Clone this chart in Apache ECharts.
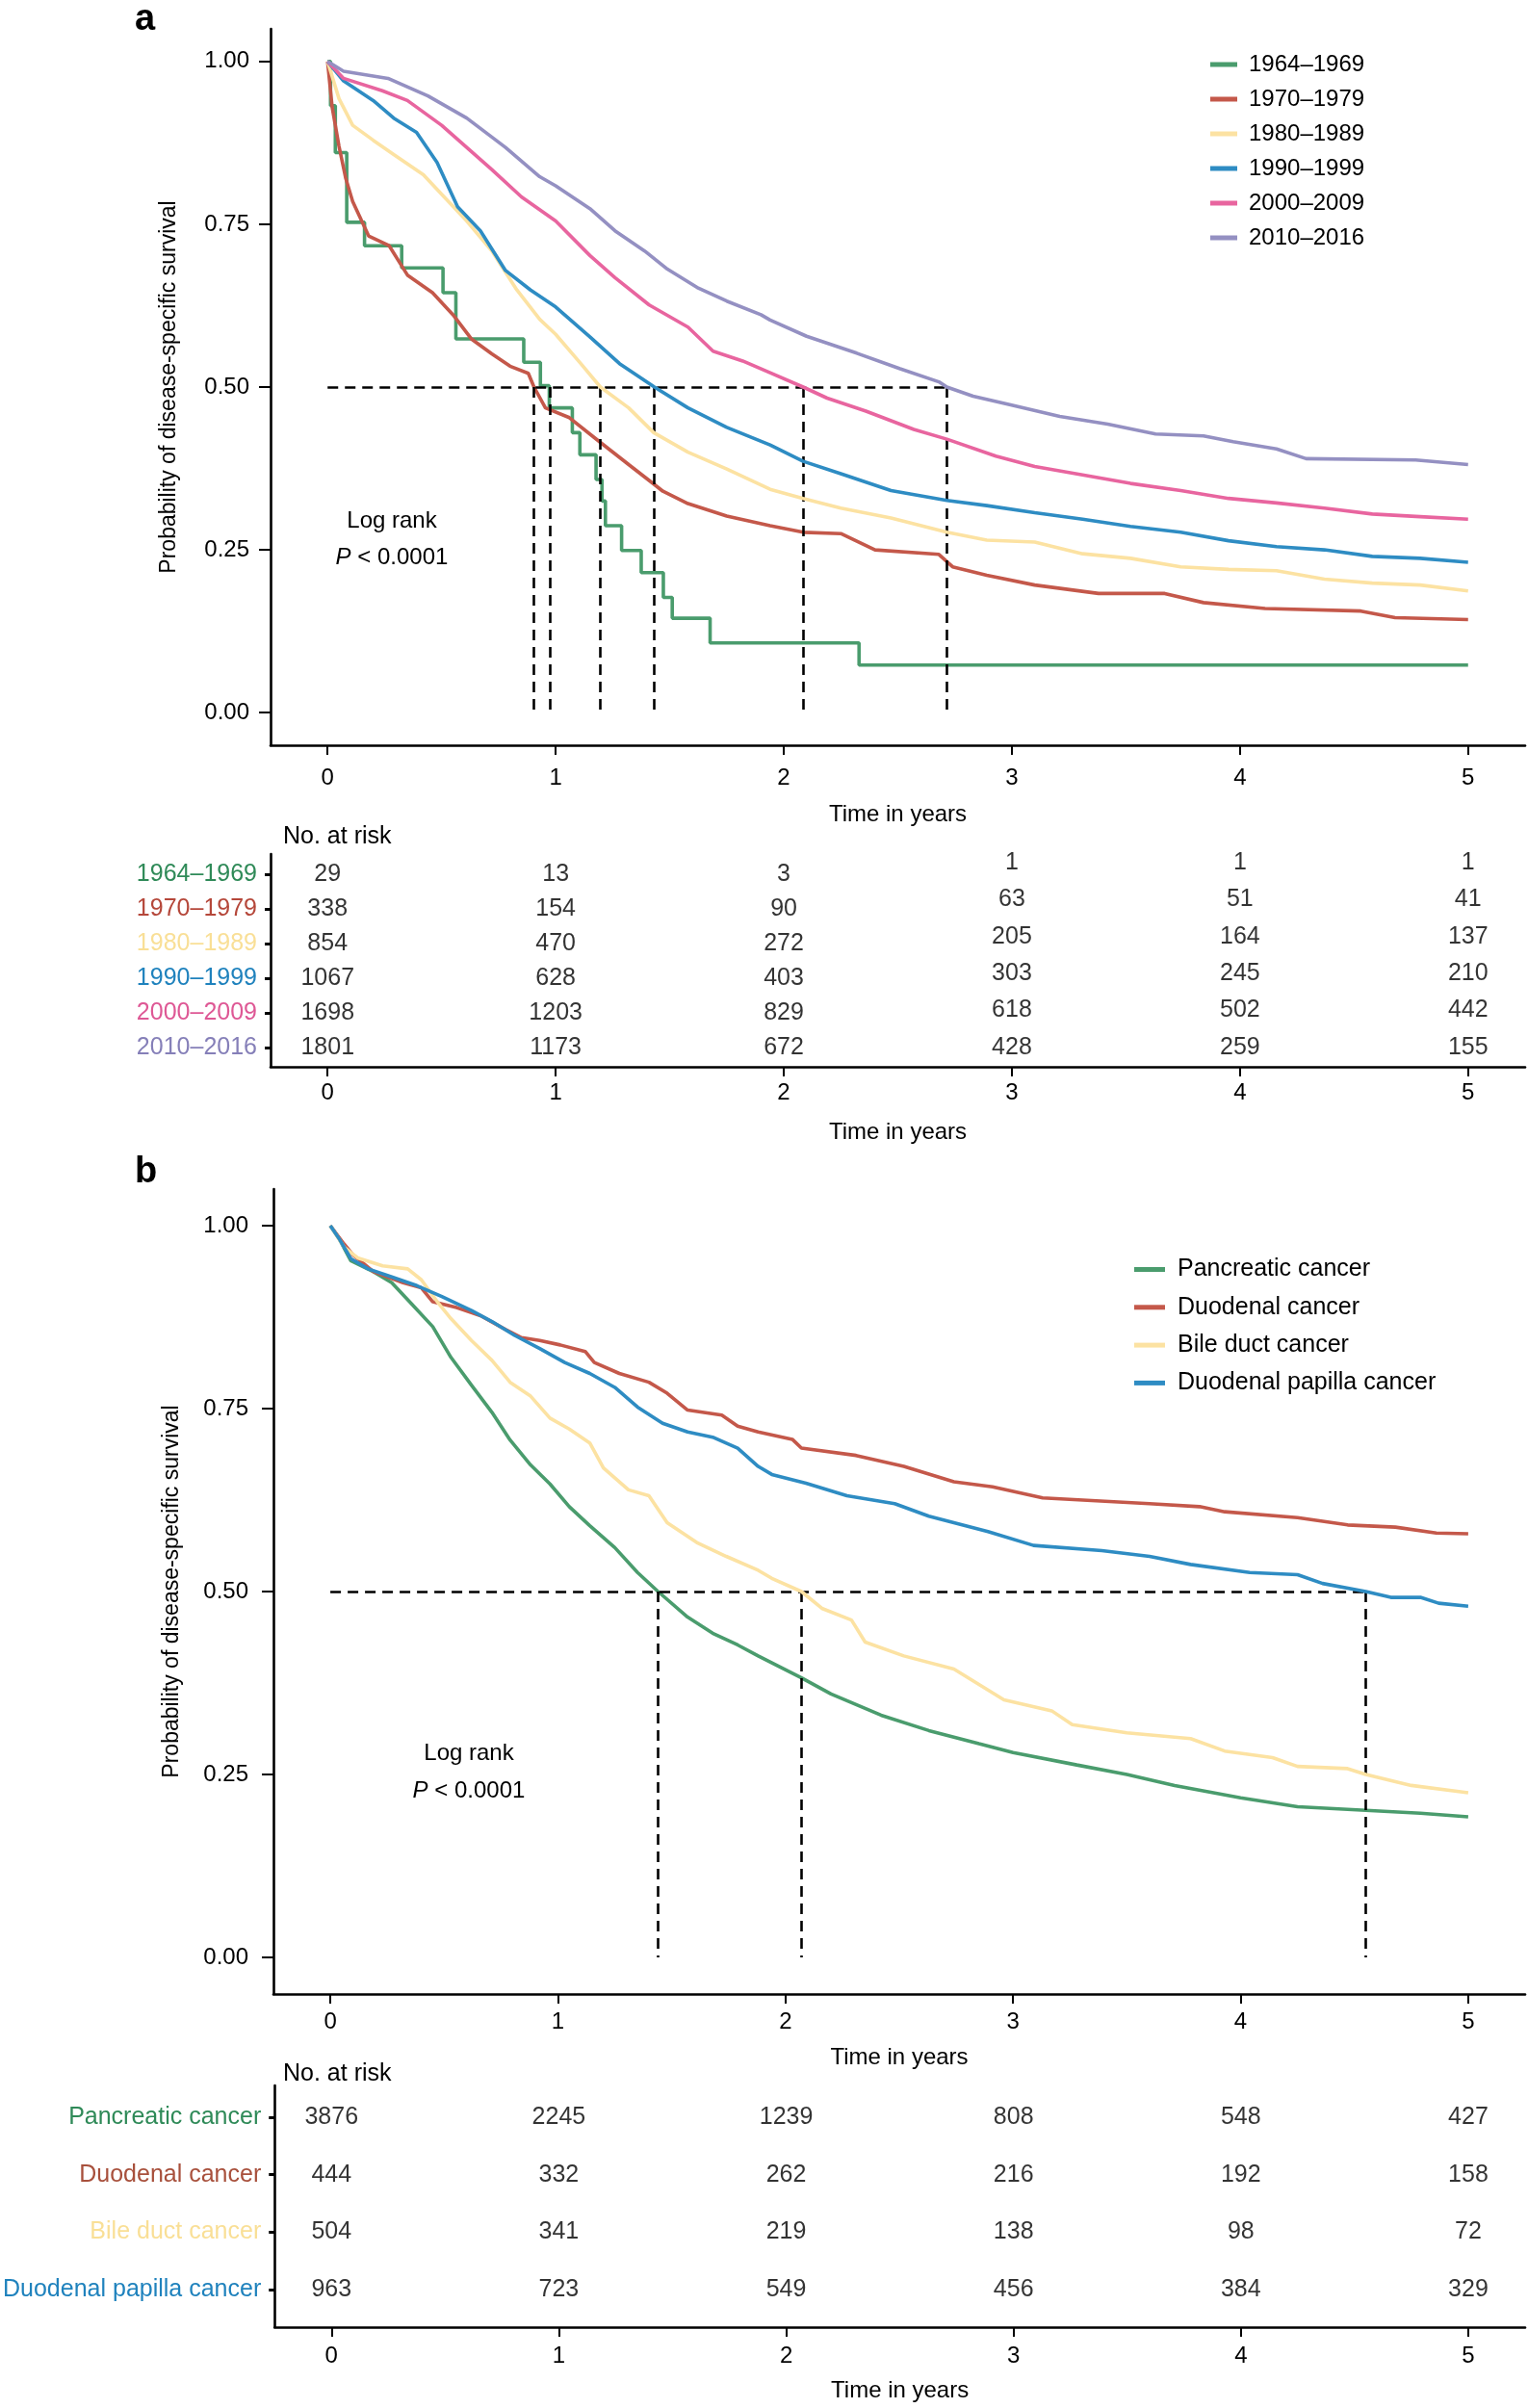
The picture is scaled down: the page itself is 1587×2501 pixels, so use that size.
<!DOCTYPE html>
<html>
<head>
<meta charset="utf-8">
<script src="https://cdn.jsdelivr.net/npm/echarts@6/dist/echarts.min.js"></script>
<style>
html,body{margin:0;padding:0;background:#fff;}
#chart{width:1587px;height:2501px;}
</style>
</head>
<body>
<div id="chart"></div>
<script>
// ---------- DATA ----------
const timeTicks = [0, 1, 2, 3, 4, 5];
const survTicks = [0, 0.25, 0.5, 0.75, 1];

// Panel a: diagnosis period
const periodNames = ['1964–1969', '1970–1979', '1980–1989', '1990–1999', '2000–2009', '2010–2016'];
const s1964 = [[0,1],[0.013,0.932],[0.034,0.860],[0.084,0.753],[0.162,0.717],[0.325,0.683],[0.506,0.645],[0.5625,0.574],[0.86,0.538],[0.933,0.502],[0.972,0.468],[1.073,0.430],[1.106,0.396],[1.177,0.358],[1.203,0.325],[1.218,0.287],[1.289,0.249],[1.375,0.215],[1.472,0.177],[1.511,0.145],[1.677,0.107],[2.33,0.073],[5,0.073]];
const s1970 = [[0,1],[0.02,0.93],[0.05,0.87],[0.08,0.82],[0.11,0.785],[0.18,0.732],[0.27,0.717],[0.35,0.672],[0.46,0.645],[0.55,0.611],[0.63,0.574],[0.72,0.551],[0.80,0.532],[0.88,0.521],[0.905,0.5],[0.955,0.468],[1.06,0.453],[1.196,0.415],[1.32,0.381],[1.43,0.351],[1.47,0.340],[1.58,0.321],[1.75,0.302],[1.94,0.287],[2.085,0.277],[2.25,0.275],[2.40,0.250],[2.68,0.243],[2.74,0.224],[2.89,0.211],[3.10,0.196],[3.38,0.183],[3.67,0.183],[3.84,0.169],[4.11,0.160],[4.53,0.156],[4.68,0.146],[5,0.143]];
const s1980 = [[0,1],[0.05,0.943],[0.11,0.902],[0.20,0.879],[0.29,0.857],[0.42,0.826],[0.50,0.796],[0.61,0.755],[0.72,0.709],[0.83,0.649],[0.93,0.604],[1.0,0.581],[1.11,0.536],[1.196,0.5],[1.32,0.468],[1.43,0.430],[1.58,0.40],[1.75,0.374],[1.94,0.343],[2.085,0.329],[2.25,0.314],[2.47,0.299],[2.715,0.277],[2.89,0.265],[3.10,0.262],[3.31,0.244],[3.52,0.237],[3.74,0.224],[3.95,0.220],[4.16,0.218],[4.37,0.205],[4.58,0.199],[4.79,0.196],[5,0.187]];
const s1990 = [[0,1],[0.07,0.970],[0.20,0.94],[0.29,0.913],[0.39,0.891],[0.48,0.845],[0.57,0.777],[0.67,0.740],[0.78,0.679],[0.89,0.649],[1.0,0.623],[1.15,0.577],[1.28,0.536],[1.433,0.5],[1.58,0.468],[1.75,0.438],[1.94,0.411],[2.085,0.386],[2.25,0.367],[2.47,0.341],[2.715,0.326],[2.89,0.318],[3.10,0.307],[3.31,0.297],[3.52,0.286],[3.74,0.277],[3.95,0.264],[4.16,0.255],[4.37,0.250],[4.58,0.240],[4.79,0.237],[5,0.231]];
const s2000 = [[0,1],[0.07,0.974],[0.24,0.955],[0.35,0.94],[0.50,0.902],[0.61,0.868],[0.72,0.834],[0.85,0.792],[1.0,0.755],[1.15,0.702],[1.26,0.668],[1.41,0.626],[1.58,0.592],[1.69,0.555],[1.82,0.540],[1.94,0.522],[2.085,0.5],[2.19,0.483],[2.36,0.463],[2.57,0.435],[2.715,0.42],[2.93,0.394],[3.10,0.378],[3.31,0.365],[3.52,0.352],[3.74,0.341],[3.95,0.329],[4.16,0.322],[4.37,0.314],[4.58,0.305],[4.79,0.301],[5,0.297]];
const s2010 = [[0,1],[0.07,0.985],[0.265,0.974],[0.44,0.947],[0.61,0.913],[0.78,0.868],[0.93,0.823],[1.0,0.809],[1.15,0.774],[1.26,0.740],[1.39,0.709],[1.49,0.681],[1.62,0.653],[1.75,0.632],[1.90,0.611],[1.94,0.603],[2.1,0.578],[2.32,0.552],[2.51,0.528],[2.68,0.508],[2.715,0.5],[2.83,0.486],[2.99,0.473],[3.21,0.455],[3.42,0.443],[3.63,0.428],[3.84,0.425],[3.97,0.416],[4.16,0.405],[4.29,0.390],[4.77,0.388],[5,0.381]];
const periodMedians = [0.905, 0.975, 1.196, 1.433, 2.085, 2.715];
const risk1964 = [29, 13, 3, 1, 1, 1];
const risk1970 = [338, 154, 90, 63, 51, 41];
const risk1980 = [854, 470, 272, 205, 164, 137];
const risk1990 = [1067, 628, 403, 303, 245, 210];
const risk2000 = [1698, 1203, 829, 618, 502, 442];
const risk2010 = [1801, 1173, 672, 428, 259, 155];

// Panel b: tumour site
const siteNames = ['Pancreatic cancer', 'Duodenal cancer', 'Bile duct cancer', 'Duodenal papilla cancer'];
const sPancreatic = [[0,1],[0.037,0.983],[0.09,0.952],[0.19,0.937],[0.27,0.922],[0.36,0.892],[0.45,0.862],[0.53,0.820],[0.62,0.782],[0.71,0.745],[0.79,0.707],[0.88,0.673],[0.965,0.647],[1.05,0.616],[1.14,0.590],[1.25,0.560],[1.35,0.526],[1.44,0.5],[1.57,0.465],[1.68,0.443],[1.79,0.427],[1.88,0.412],[2.07,0.382],[2.20,0.360],[2.42,0.331],[2.63,0.310],[2.85,0.292],[3.0,0.280],[3.28,0.263],[3.50,0.250],[3.71,0.235],[4.0,0.218],[4.25,0.206],[4.55,0.201],[4.79,0.197],[5,0.192]];
const sDuodenal = [[0,1],[0.06,0.975],[0.10,0.960],[0.19,0.937],[0.32,0.922],[0.40,0.915],[0.45,0.896],[0.555,0.888],[0.66,0.877],[0.77,0.858],[0.84,0.847],[0.92,0.843],[1.01,0.837],[1.12,0.828],[1.16,0.813],[1.27,0.798],[1.40,0.786],[1.48,0.771],[1.57,0.748],[1.72,0.741],[1.79,0.726],[1.88,0.718],[2.03,0.708],[2.07,0.696],[2.31,0.686],[2.52,0.671],[2.74,0.650],[2.91,0.643],[3.13,0.628],[3.60,0.620],[3.82,0.616],[3.93,0.609],[4.25,0.601],[4.47,0.591],[4.68,0.588],[4.86,0.580],[5,0.579]];
const sBile = [[0,1],[0.06,0.971],[0.12,0.956],[0.23,0.945],[0.34,0.941],[0.40,0.926],[0.47,0.896],[0.53,0.873],[0.62,0.843],[0.71,0.816],[0.79,0.786],[0.88,0.767],[0.965,0.737],[1.05,0.722],[1.14,0.703],[1.20,0.669],[1.31,0.639],[1.40,0.631],[1.48,0.594],[1.61,0.567],[1.74,0.548],[1.88,0.529],[1.94,0.518],[2.07,0.5],[2.16,0.477],[2.29,0.461],[2.35,0.431],[2.52,0.412],[2.74,0.394],[2.96,0.352],[3.17,0.337],[3.26,0.318],[3.50,0.307],[3.78,0.299],[3.93,0.282],[4.14,0.273],[4.25,0.261],[4.47,0.258],[4.55,0.250],[4.75,0.235],[5,0.225]];
const sPapilla = [[0,1],[0.037,0.983],[0.09,0.955],[0.166,0.941],[0.27,0.930],[0.38,0.918],[0.49,0.903],[0.62,0.884],[0.71,0.869],[0.81,0.850],[0.92,0.832],[1.03,0.813],[1.14,0.798],[1.25,0.779],[1.35,0.752],[1.46,0.730],[1.57,0.718],[1.68,0.711],[1.79,0.696],[1.88,0.671],[1.94,0.660],[2.09,0.648],[2.27,0.631],[2.48,0.620],[2.63,0.603],[2.89,0.582],[3.09,0.563],[3.39,0.556],[3.60,0.548],[3.78,0.537],[4.04,0.526],[4.25,0.523],[4.36,0.511],[4.55,0.5],[4.66,0.492],[4.79,0.492],[4.87,0.484],[5,0.480]];
const siteMedians = [1.44, 2.07, 4.55];
const riskPancreatic = [3876, 2245, 1239, 808, 548, 427];
const riskDuodenal = [444, 332, 262, 216, 192, 158];
const riskBile = [504, 341, 219, 138, 98, 72];
const riskPapilla = [963, 723, 549, 456, 384, 329];

// ---------- STYLE ----------
const FONT = "'Liberation Sans', Arial, Helvetica, sans-serif";
const periodColors = ['#4A9C6D', '#C4584A', '#FCE2A2', '#2E8CC3', '#E8659F', '#9490C2'];
const periodTextColors = ['#2F8A58', '#B5473A', '#F9DF96', '#1F82BD', '#DE5895', '#857FB8'];
const siteColors = ['#4A9C6D', '#C4584A', '#FCE2A2', '#2E8CC3'];
const siteTextColors = ['#2F8A58', '#A8503C', '#F9DF96', '#1F82BD'];

const periodCurves = [s1964, s1970, s1980, s1990, s2000, s2010];
const periodRisk = [risk1964, risk1970, risk1980, risk1990, risk2000, risk2010];
const siteCurves = [sPancreatic, sDuodenal, sBile, sPapilla];
const siteRisk = [riskPancreatic, riskDuodenal, riskBile, riskPapilla];

const AX = '#000';
function xAxisDef(gridIndex, labelMargin, nameGap, fs) {
  return {
    type: 'value', gridIndex, min: -0.25, max: 5.25,
    axisLine: { show: true, onZero: false, lineStyle: { color: AX, width: 2.6 } },
    axisTick: { show: true, customValues: timeTicks, length: 10, lineStyle: { color: AX, width: 2 } },
    axisLabel: { show: true, customValues: timeTicks, margin: labelMargin, fontSize: fs, color: '#000', fontFamily: FONT, formatter: v => String(v) },
    splitLine: { show: false },
    name: 'Time in years', nameLocation: 'middle', nameGap,
    nameTextStyle: { fontSize: fs, color: '#000', fontFamily: FONT }
  };
}
function survAxisDef(gridIndex, labelMargin, fs) {
  return {
    type: 'value', gridIndex, min: -0.05, max: 1.05,
    axisLine: { show: true, onZero: false, lineStyle: { color: AX, width: 2.6 } },
    axisTick: { show: true, customValues: survTicks, length: 12, lineStyle: { color: AX, width: 2 } },
    axisLabel: { show: true, customValues: survTicks, margin: labelMargin, fontSize: fs, color: '#000', fontFamily: FONT, formatter: v => v.toFixed(2) },
    splitLine: { show: false },
    name: 'Probability of disease-specific survival', nameLocation: 'middle', nameGap: 94, nameRotate: 90,
    nameTextStyle: { fontSize: 23, color: '#000', fontFamily: FONT }
  };
}
function tableAxisDef(gridIndex, names, colors, minV, maxV, fs) {
  const n = names.length;
  const vals = names.map((_, i) => i);
  return {
    type: 'value', gridIndex, min: minV, max: maxV,
    axisLine: { show: true, onZero: false, lineStyle: { color: AX, width: 2.6 } },
    axisTick: { show: true, customValues: vals, length: 6, lineStyle: { color: AX, width: 3 } },
    axisLabel: {
      show: true, customValues: vals, margin: 14, fontSize: fs, fontFamily: FONT,
      formatter: v => names[n - 1 - Math.round(v)],
      color: v => colors[n - 1 - Math.round(v)]
    },
    splitLine: { show: false }
  };
}

const series = [];
periodNames.forEach((nm, i) => {
  series.push({
    name: nm, type: 'line', xAxisIndex: 0, yAxisIndex: 0,
    data: periodCurves[i], showSymbol: false, symbol: 'none',
    step: i === 0 ? 'end' : false,
    color: periodColors[i],
    lineStyle: { width: 3.6, color: periodColors[i] },
    z: 3 + i, animation: false
  });
});
siteNames.forEach((nm, i) => {
  series.push({
    name: nm, type: 'line', xAxisIndex: 2, yAxisIndex: 2,
    data: siteCurves[i], showSymbol: false, symbol: 'none',
    color: siteColors[i],
    lineStyle: { width: 3.6, color: siteColors[i] },
    z: 3 + i, animation: false
  });
});

function medianLines(medians, xi, yi) {
  const maxM = Math.max(...medians);
  const data = [[{ coord: [0, 0.5] }, { coord: [maxM, 0.5] }]];
  medians.forEach(m => data.push([{ coord: [m, 0.5] }, { coord: [m, 0] }]));
  return {
    type: 'line', xAxisIndex: xi, yAxisIndex: yi, data: [], silent: true,
    markLine: {
      symbol: ['none', 'none'], silent: true, animation: false,
      label: { show: false },
      lineStyle: { type: [11, 7], color: '#000', width: 2.6 },
      data
    },
    z: 10
  };
}
series.push(medianLines(periodMedians, 0, 0));
series.push(medianLines(siteMedians, 2, 2));

function riskSeries(risks, xi, yi, fs, shiftLater) {
  const n = risks.length;
  const data = [];
  risks.forEach((row, i) => {
    const rv = n - 1 - i;
    row.forEach((count, j) => {
      const item = { value: [timeTicks[j], rv, count] };
      if (shiftLater && j >= 3) item.label = { offset: [0, -rv * 2.4] };
      data.push(item);
    });
  });
  return {
    type: 'scatter', xAxisIndex: xi, yAxisIndex: yi, data,
    symbolSize: 1, itemStyle: { color: 'rgba(0,0,0,0)' }, silent: true, animation: false,
    label: { show: true, position: 'inside', formatter: p => String(p.value[2]), fontSize: fs, color: '#000', fontFamily: FONT }
  };
}
series.push(riskSeries(periodRisk, 1, 1, 25, true));
series.push(riskSeries(siteRisk, 3, 3, 25, false));

const option = {
  animation: false,
  backgroundColor: '#fff',
  textStyle: { fontFamily: FONT },
  grid: [
    { left: 281, top: 30, width: 1303, height: 744 },
    { left: 281, top: 887, width: 1303, height: 221 },
    { left: 284, top: 1235, width: 1300, height: 836 },
    { left: 284, top: 2166, width: 1300, height: 251 }
  ],
  xAxis: [
    xAxisDef(0, 22, 60, 24),
    xAxisDef(1, 15, 56, 24),
    xAxisDef(2, 17, 54, 24),
    xAxisDef(3, 18, 54, 24)
  ],
  yAxis: [
    survAxisDef(0, 22, 24),
    tableAxisDef(1, periodNames, periodTextColors, -0.556, 5.583, 25),
    survAxisDef(2, 26, 24),
    tableAxisDef(3, siteNames, siteTextColors, -0.65, 3.55, 25)
  ],
  legend: [
    {
      data: periodNames, orient: 'vertical', left: 1257, top: 55, padding: 0,
      icon: 'rect', itemWidth: 28, itemHeight: 5, itemGap: 12,
      textStyle: { fontSize: 24, color: '#000', fontFamily: FONT, padding: [0, 0, 0, 7] },
      selectedMode: false
    },
    {
      data: siteNames, orient: 'vertical', left: 1178, top: 1306, padding: 0,
      icon: 'rect', itemWidth: 32, itemHeight: 5, itemGap: 14.3,
      textStyle: { fontSize: 25, color: '#000', fontFamily: FONT, padding: [0, 0, 0, 8] },
      selectedMode: false
    }
  ],
  graphic: [
    { type: 'text', left: 140, top: 2, style: { text: 'a', font: "bold 38px 'Liberation Sans', Arial, sans-serif", fill: '#000' } },
    { type: 'text', left: 140, top: 1199, style: { text: 'b', font: "bold 38px 'Liberation Sans', Arial, sans-serif", fill: '#000' } },
    { type: 'text', x: 294, y: 869, style: { text: 'No. at risk', font: "25px 'Liberation Sans', Arial, sans-serif", fill: '#000', verticalAlign: 'middle' } },
    { type: 'text', x: 294, y: 2154, style: { text: 'No. at risk', font: "25px 'Liberation Sans', Arial, sans-serif", fill: '#000', verticalAlign: 'middle' } },
    { type: 'text', x: 407, y: 541, style: { text: 'Log rank', font: "24px 'Liberation Sans', Arial, sans-serif", fill: '#000', align: 'center', verticalAlign: 'middle' } },
    { type: 'text', x: 407, y: 579, style: { text: '{i|P} < 0.0001', font: "24px 'Liberation Sans', Arial, sans-serif", fill: '#000', align: 'center', verticalAlign: 'middle', rich: { i: { fontStyle: 'italic', fontSize: 24, fontFamily: FONT } } } },
    { type: 'text', x: 487, y: 1821, style: { text: 'Log rank', font: "24px 'Liberation Sans', Arial, sans-serif", fill: '#000', align: 'center', verticalAlign: 'middle' } },
    { type: 'text', x: 487, y: 1860, style: { text: '{i|P} < 0.0001', font: "24px 'Liberation Sans', Arial, sans-serif", fill: '#000', align: 'center', verticalAlign: 'middle', rich: { i: { fontStyle: 'italic', fontSize: 24, fontFamily: FONT } } } }
  ],
  series
};

const chart = echarts.init(document.getElementById('chart'), null, { renderer: 'canvas', width: 1587, height: 2501 });
chart.setOption(option);
</script>
</body>
</html>
